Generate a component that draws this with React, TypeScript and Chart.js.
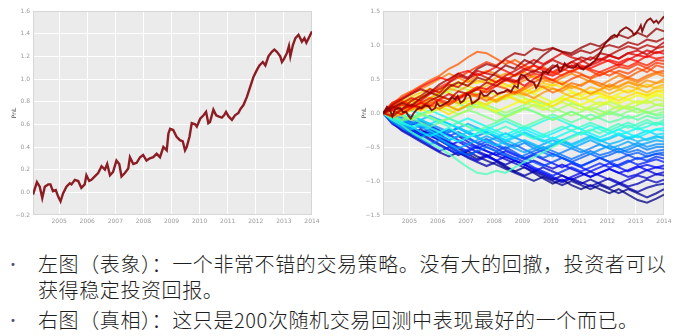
import { useEffect, useRef } from "react";
import { Chart, registerables } from "chart.js";

Chart.register(...registerables);

// ---------- data ----------
const YEAR_TICKS = [2005, 2006, 2007, 2008, 2009, 2010, 2011, 2012, 2013, 2014];
const X_MIN = 2004.07;
const X_MAX = 2014;

// best back-test (left chart), time in years, PnL
const LEFT_T = [
  2004.07, 2004.21, 2004.31, 2004.4, 2004.49, 2004.61, 2004.69, 2004.78, 2004.88, 2004.97,
  2005.05, 2005.14, 2005.26, 2005.38, 2005.44, 2005.56, 2005.68, 2005.79, 2005.91, 2005.97,
  2006.07, 2006.15, 2006.27, 2006.39, 2006.51, 2006.63, 2006.71, 2006.81, 2006.92, 2007.04,
  2007.14, 2007.22, 2007.34, 2007.46, 2007.52, 2007.64, 2007.76, 2007.88, 2007.99, 2008.11,
  2008.23, 2008.35, 2008.47, 2008.59, 2008.71, 2008.83, 2008.89, 2008.95, 2009.06, 2009.18,
  2009.3, 2009.4, 2009.48, 2009.54, 2009.64, 2009.72, 2009.84, 2009.9, 2010.02, 2010.14,
  2010.23, 2010.31, 2010.37, 2010.49, 2010.59, 2010.67, 2010.79, 2010.87, 2010.94, 2011.03,
  2011.15, 2011.26, 2011.38, 2011.44, 2011.56, 2011.68, 2011.8, 2011.92, 2012.04, 2012.13,
  2012.25, 2012.34, 2012.45, 2012.57, 2012.66, 2012.75, 2012.87, 2012.93, 2013.01, 2013.11,
  2013.18, 2013.23, 2013.32, 2013.41, 2013.52, 2013.64, 2013.73, 2013.8, 2013.88, 2014.0,
];
const LEFT_PNL = [
  -0.02, 0.09, 0.05, -0.05, 0.05, 0.07, 0.07, 0.01, 0.02, -0.04,
  -0.08, -0.01, 0.05, 0.08, 0.07, 0.11, 0.1, 0.04, 0.07, 0.15,
  0.1, 0.11, 0.14, 0.17, 0.23, 0.2, 0.25, 0.15, 0.18, 0.28,
  0.25, 0.14, 0.17, 0.21, 0.31, 0.25, 0.26, 0.31, 0.33, 0.28,
  0.3, 0.31, 0.34, 0.31, 0.4, 0.37, 0.52, 0.56, 0.55, 0.49,
  0.46, 0.45, 0.37, 0.4, 0.49, 0.61, 0.6, 0.58, 0.65, 0.68,
  0.71, 0.61, 0.62, 0.73, 0.68, 0.67, 0.66, 0.68, 0.71, 0.67,
  0.64, 0.68, 0.7, 0.73, 0.77, 0.84, 0.93, 1.02, 1.08, 1.12,
  1.15, 1.12, 1.2, 1.24, 1.26, 1.24, 1.2, 1.15, 1.18, 1.23,
  1.29, 1.2, 1.3, 1.36, 1.39, 1.33, 1.36, 1.32, 1.36, 1.42,
];

// other random back-tests (right chart), sampled every 4 months, PnL in hundredths
const RUN_T = [
  2004.07, 2004.4, 2004.73, 2005.07, 2005.4, 2005.73, 2006.07, 2006.4, 2006.73, 2007.07,
  2007.4, 2007.73, 2008.07, 2008.4, 2008.73, 2009.07, 2009.4, 2009.73, 2010.07, 2010.4,
  2010.73, 2011.07, 2011.4, 2011.73, 2012.07, 2012.4, 2012.73, 2013.07, 2013.4, 2013.73, 2014.0,
];
const RUN_PATHS: number[][] = [
  [0, 8, 15, 10, 22, 30, 25, 38, 45, 40, 52, 48, 60, 70, 65, 78, 72, 85, 95, 90, 88, 96, 102, 98, 108, 115, 110, 118, 112, 124, 120],
  [0, 12, 20, 28, 35, 30, 42, 50, 58, 52, 65, 72, 68, 80, 88, 85, 95, 92, 96, 90, 85, 92, 88, 95, 100, 96, 104, 100, 108, 105, 110],
  [0, -5, 5, 12, 8, 18, 25, 20, 32, 28, 35, 45, 40, 50, 46, 55, 62, 58, 70, 66, 75, 82, 78, 88, 85, 92, 98, 94, 100, 96, 104],
  [0, 10, 5, 18, 25, 35, 30, 45, 55, 50, 62, 58, 55, 48, 56, 65, 60, 70, 78, 72, 68, 75, 82, 78, 85, 80, 88, 92, 86, 95, 98],
  [0, 6, 14, 22, 18, 28, 35, 42, 38, 50, 58, 52, 45, 55, 62, 70, 78, 72, 80, 88, 82, 78, 70, 76, 84, 80, 88, 85, 92, 88, 92],
  [0, 4, -2, 8, 15, 10, 20, 28, 22, 30, 38, 35, 45, 52, 48, 40, 50, 58, 55, 62, 70, 65, 72, 80, 76, 70, 78, 85, 82, 90, 87],
  [0, 15, 22, 30, 38, 45, 52, 48, 58, 62, 55, 60, 68, 62, 55, 62, 70, 65, 60, 68, 75, 70, 66, 72, 78, 74, 80, 76, 84, 80, 82],
  [0, 5, 12, 8, 15, 22, 18, 12, 20, 28, 35, 30, 40, 48, 45, 52, 58, 55, 48, 56, 62, 68, 64, 60, 66, 72, 68, 75, 70, 78, 77],
  [0, 10, 18, 12, 20, 30, 38, 45, 52, 60, 68, 75, 70, 78, 72, 65, 70, 62, 58, 65, 60, 68, 62, 55, 62, 68, 65, 72, 66, 74, 72],
  [0, -3, 6, 12, 5, 14, 20, 15, 24, 30, 26, 34, 40, 36, 30, 38, 45, 52, 48, 42, 50, 56, 52, 60, 55, 62, 58, 66, 60, 70, 67],
  [0, 12, 25, 32, 40, 48, 55, 65, 72, 82, 90, 88, 80, 72, 78, 70, 62, 68, 60, 55, 62, 58, 50, 56, 62, 58, 52, 60, 66, 60, 62],
  [0, 8, 2, 10, 18, 12, 6, 14, 22, 28, 24, 18, 26, 32, 28, 35, 42, 38, 30, 36, 44, 40, 48, 44, 38, 46, 52, 48, 55, 60, 58],
  [0, 15, 20, 28, 35, 42, 50, 58, 52, 45, 55, 62, 58, 50, 42, 48, 55, 50, 44, 52, 58, 52, 46, 40, 48, 55, 50, 45, 52, 58, 54],
  [0, -6, -2, 5, 12, 8, 15, 10, 4, 12, 20, 25, 18, 26, 32, 28, 22, 30, 36, 32, 40, 35, 28, 34, 42, 38, 45, 40, 48, 44, 50],
  [0, 6, 12, 18, 14, 22, 30, 36, 32, 40, 48, 44, 52, 58, 54, 60, 52, 46, 50, 42, 36, 42, 48, 40, 34, 40, 46, 42, 38, 44, 46],
  [0, 4, 10, 4, 12, 18, 24, 20, 14, 22, 28, 22, 16, 24, 30, 26, 32, 40, 36, 30, 24, 30, 38, 34, 28, 34, 40, 36, 30, 38, 42],
  [0, 10, 16, 24, 30, 36, 30, 40, 46, 40, 34, 40, 48, 42, 36, 30, 38, 44, 40, 46, 40, 34, 28, 34, 40, 35, 30, 36, 42, 36, 38],
  [0, -4, 2, 8, 3, 10, 5, -2, 6, 12, 18, 12, 20, 26, 20, 14, 22, 16, 10, 18, 24, 20, 26, 30, 24, 18, 25, 30, 26, 32, 34],
  [0, 8, 14, 20, 26, 22, 30, 36, 42, 48, 44, 50, 45, 38, 44, 36, 30, 36, 42, 38, 32, 26, 32, 28, 22, 28, 34, 30, 25, 32, 30],
  [0, 5, -2, 4, 10, 16, 10, 4, 12, 18, 14, 8, 2, 8, 14, 20, 16, 10, 16, 22, 18, 12, 18, 24, 20, 14, 20, 26, 22, 28, 26],
  [0, 12, 20, 15, 24, 30, 36, 30, 24, 32, 38, 32, 26, 20, 28, 34, 28, 22, 16, 24, 30, 24, 18, 12, 18, 24, 20, 14, 20, 26, 22],
  [0, -3, 4, 10, 6, 0, 6, 12, 18, 14, 8, 14, 20, 26, 22, 16, 10, 4, 10, 16, 10, 4, 10, 16, 12, 6, 12, 18, 14, 20, 18],
  [0, 6, 12, 18, 24, 30, 26, 32, 38, 34, 28, 22, 16, 22, 28, 22, 16, 10, 16, 22, 16, 10, 4, 10, 16, 12, 6, 12, 18, 12, 14],
  [0, 2, -4, -10, -4, 2, 8, 4, -2, 4, 10, 6, 0, -6, 0, 6, 12, 8, 2, 8, 14, 10, 4, -2, 4, 10, 6, 0, 6, 12, 10],
  [0, 8, 14, 10, 16, 22, 16, 10, 4, 10, 16, 12, 6, 0, 6, 12, 18, 14, 8, 2, -4, 2, 8, 4, -2, 4, 10, 6, 0, 4, 6],
  [0, -4, -10, -6, 0, -6, -12, -8, -2, 4, 0, -6, -12, -6, 0, 6, 2, -4, -10, -4, 2, -4, -10, -6, 0, -4, 2, 6, 0, -2, 2],
  [0, 6, 12, 18, 12, 20, 26, 20, 14, 8, 14, 8, 2, -4, 2, 8, 2, -4, -10, -4, 2, -4, -10, -4, 2, -2, -8, -4, 2, -4, -2],
  [0, -6, -12, -8, -14, -20, -14, -8, -14, -20, -26, -20, -14, -8, -14, -20, -14, -8, -2, -8, -14, -8, -2, -8, -14, -10, -4, -10, -4, -8, -6],
  [0, -10, -18, -28, -36, -44, -52, -60, -70, -80, -88, -90, -85, -88, -80, -72, -65, -58, -50, -42, -36, -30, -24, -30, -22, -16, -22, -16, -10, -16, -10],
  [0, 4, -2, -8, -2, -8, -14, -20, -14, -20, -26, -32, -26, -20, -26, -32, -38, -32, -26, -20, -26, -20, -14, -20, -26, -20, -14, -20, -14, -18, -14],
  [0, -8, -14, -20, -16, -22, -28, -22, -30, -36, -30, -24, -18, -12, -18, -24, -18, -12, -6, -12, -18, -24, -18, -24, -30, -24, -18, -24, -20, -14, -18],
  [0, 6, 10, 4, -2, 4, -2, -8, -14, -8, -14, -20, -26, -32, -26, -20, -26, -32, -38, -32, -26, -32, -26, -20, -26, -32, -28, -22, -28, -24, -22],
  [0, -6, -14, -20, -28, -34, -28, -36, -42, -36, -30, -24, -30, -36, -30, -24, -30, -36, -30, -24, -18, -24, -30, -36, -30, -24, -30, -36, -30, -24, -26],
  [0, -4, 2, -4, -10, -16, -10, -16, -22, -28, -22, -28, -34, -40, -34, -28, -34, -40, -46, -40, -34, -28, -34, -40, -36, -30, -36, -32, -26, -32, -30],
  [0, -10, -16, -24, -18, -26, -34, -40, -34, -28, -36, -42, -48, -42, -36, -30, -36, -42, -36, -42, -48, -42, -36, -42, -38, -32, -38, -34, -40, -36, -34],
  [0, -2, -8, -4, -10, -4, -10, -16, -22, -16, -22, -28, -34, -40, -46, -40, -46, -52, -46, -40, -46, -40, -34, -40, -46, -42, -36, -42, -38, -34, -38],
  [0, -12, -20, -28, -36, -30, -38, -46, -52, -46, -40, -34, -40, -46, -52, -58, -52, -46, -40, -46, -52, -46, -40, -46, -52, -48, -42, -48, -44, -40, -42],
  [0, -4, -10, -16, -10, -16, -22, -28, -22, -30, -36, -42, -36, -30, -36, -42, -48, -54, -48, -42, -48, -54, -60, -54, -48, -54, -50, -44, -50, -46, -46],
  [0, -8, -16, -12, -20, -28, -34, -28, -22, -28, -34, -28, -36, -44, -50, -44, -52, -58, -64, -58, -52, -58, -52, -46, -52, -58, -54, -48, -54, -50, -50],
  [0, -14, -22, -30, -38, -46, -40, -48, -56, -62, -56, -50, -56, -62, -68, -62, -56, -50, -56, -62, -68, -62, -56, -62, -58, -52, -58, -54, -60, -56, -54],
  [0, -6, -12, -8, -16, -22, -30, -24, -32, -38, -44, -38, -46, -52, -46, -54, -60, -66, -60, -66, -72, -66, -60, -66, -62, -56, -62, -58, -64, -60, -58],
  [0, -10, -6, -14, -22, -18, -26, -34, -28, -36, -44, -50, -56, -50, -58, -66, -72, -78, -72, -66, -72, -78, -72, -66, -72, -68, -62, -68, -64, -60, -62],
  [0, -8, -16, -24, -32, -40, -48, -54, -60, -54, -48, -42, -48, -54, -60, -66, -60, -54, -60, -66, -72, -78, -72, -66, -72, -78, -72, -66, -70, -64, -67],
  [0, -4, -10, -18, -12, -20, -26, -32, -40, -46, -52, -46, -52, -60, -66, -72, -80, -86, -92, -86, -80, -86, -80, -74, -80, -76, -70, -76, -72, -68, -72],
  [0, -12, -18, -26, -34, -28, -36, -42, -50, -56, -50, -56, -62, -56, -62, -68, -62, -68, -74, -80, -74, -80, -86, -80, -74, -80, -86, -80, -76, -80, -77],
  [0, -6, -14, -20, -28, -34, -40, -48, -42, -50, -58, -64, -70, -64, -70, -76, -82, -88, -94, -100, -94, -88, -94, -88, -82, -88, -84, -78, -84, -80, -82],
  [0, -16, -24, -32, -40, -48, -56, -50, -58, -64, -70, -64, -58, -64, -70, -76, -70, -76, -82, -76, -82, -88, -94, -88, -82, -88, -94, -90, -84, -90, -87],
  [0, -8, -14, -22, -30, -24, -32, -40, -34, -42, -50, -56, -62, -68, -74, -80, -86, -80, -86, -92, -98, -92, -86, -92, -98, -104, -98, -92, -96, -90, -92],
  [0, -10, -20, -30, -24, -32, -40, -48, -56, -62, -56, -62, -70, -76, -70, -76, -84, -90, -96, -102, -96, -102, -108, -102, -96, -102, -108, -104, -98, -102, -98],
  [0, -14, -26, -34, -42, -50, -58, -64, -58, -66, -72, -78, -72, -80, -86, -92, -86, -92, -98, -92, -98, -104, -98, -104, -110, -104, -110, -116, -110, -106, -104],
  [0, -6, -14, -22, -30, -38, -46, -54, -62, -56, -64, -70, -76, -82, -88, -94, -100, -94, -100, -106, -100, -106, -112, -106, -112, -118, -112, -118, -124, -118, -112],
  [0, -10, -18, -26, -34, -28, -36, -44, -52, -60, -68, -62, -70, -78, -86, -80, -88, -96, -104, -98, -106, -112, -106, -112, -118, -112, -120, -128, -132, -126, -120],
];

const LINE1 = "左图（表象）：一个非常不错的交易策略。没有大的回撤，投资者可以";
const LINE2 = "获得稳定投资回报。";
const LINE3 = "右图（真相）：这只是200次随机交易回测中表现最好的一个而已。";

// ---------- helpers ----------
function jet(x: number, a: number) {
  const c = (v: number) => Math.max(0, Math.min(1, v));
  const r = c(1.5 - Math.abs(4 * x - 3));
  const g = c(1.5 - Math.abs(4 * x - 2));
  const b = c(1.5 - Math.abs(4 * x - 1));
  return `rgba(${Math.round(r * 255)},${Math.round(g * 255)},${Math.round(b * 255)},${a})`;
}

const plotBg = {
  id: "plotBg",
  beforeDraw(chart: any) {
    const { ctx, chartArea: a } = chart;
    ctx.save();
    ctx.fillStyle = "#ebebeb";
    ctx.fillRect(a.left, a.top, a.right - a.left, a.bottom - a.top);
    ctx.restore();
  },
  beforeDatasetsDraw(chart: any) {
    const { ctx, chartArea: a } = chart;
    ctx.save();
    ctx.strokeStyle = "#d6d6d6";
    ctx.lineWidth = 1;
    ctx.strokeRect(a.left + 0.5, a.top + 0.5, a.right - a.left - 1, a.bottom - a.top - 1);
    ctx.restore();
  },
};

const TICK_FONT = { family: "DejaVu Sans", size: 6 };

function fmt(v: number) {
  if (Math.abs(v) < 1e-9) return "0.0";
  const s = v.toFixed(1);
  return s.replace("-", "\u2212");
}

function zeroPad(s: any) {
  s.paddingLeft = 0;
  s.paddingRight = 0;
  s.paddingTop = 0;
  s.paddingBottom = 0;
}

function makeOptions(yMin: number, yMax: number, yStep: number, yWidth: number, titlePad: number, rightPad: number) {
  return {
    responsive: false,
    animation: false as const,
    events: [],
    layout: { padding: { top: 11, right: rightPad, left: 0, bottom: 0 } },
    plugins: { legend: { display: false }, tooltip: { enabled: false } },
    scales: {
      x: {
        type: "linear" as const,
        min: X_MIN,
        max: X_MAX,
        afterBuildTicks: (s: any) => {
          s.ticks = YEAR_TICKS.map((v) => ({ value: v }));
        },
        afterFit: (s: any) => {
          s.height = 15;
          zeroPad(s);
        },
        grid: { color: "#ffffff", lineWidth: 1, drawTicks: false },
        border: { display: false },
        ticks: {
          color: "#9a9a9a",
          font: TICK_FONT,
          padding: 3,
          maxRotation: 0,
          autoSkip: false,
          callback: (v: any) => String(v),
        },
      },
      y: {
        min: yMin,
        max: yMax,
        afterFit: (s: any) => {
          s.width = yWidth;
          zeroPad(s);
        },
        grid: { color: "#ffffff", lineWidth: 1, drawTicks: false },
        border: { display: false },
        ticks: {
          stepSize: yStep,
          color: "#9a9a9a",
          font: TICK_FONT,
          padding: 3,
          callback: (v: any) => fmt(Number(v)),
        },
        title: {
          display: true,
          text: "PnL",
          color: "#555555",
          font: { family: "DejaVu Sans", size: 6 },
          padding: { top: titlePad, bottom: 0 },
        },
      },
    },
  };
}

function leftConfig(): any {
  return {
    type: "line",
    data: {
      datasets: [
        {
          data: LEFT_T.map((t, i) => ({ x: t, y: LEFT_PNL[i] })),
          borderColor: "#8c1d24",
          borderWidth: 2.4,
          pointRadius: 0,
          tension: 0,
        },
      ],
    },
    options: makeOptions(-0.2, 1.6, 0.2, 33, 10.4, 18),
    plugins: [plotBg],
  };
}

function rightConfig(): any {
  const n = RUN_PATHS.length;
  const datasets: any[] = [
    {
      data: LEFT_T.map((t, i) => ({ x: t, y: LEFT_PNL[i] })),
      borderColor: jet(1, 0.9),
      borderWidth: 1.9,
      pointRadius: 0,
      tension: 0,
    },
  ];
  RUN_PATHS.forEach((p, k) => {
    datasets.push({
      data: RUN_T.map((t, i) => ({ x: t, y: p[i] / 100 })),
      borderColor: jet(1 - (k + 1) / n, 0.75),
      borderWidth: 2,
      pointRadius: 0,
      tension: 0,
    });
  });
  return {
    type: "line",
    data: { datasets },
    options: makeOptions(-1.5, 1.5, 0.5, 43, 20.4, 13),
    plugins: [plotBg],
  };
}

export default function App() {
  const leftRef = useRef<HTMLCanvasElement>(null);
  const rightRef = useRef<HTMLCanvasElement>(null);

  useEffect(() => {
    const c1 = new Chart(leftRef.current as HTMLCanvasElement, leftConfig());
    const c2 = new Chart(rightRef.current as HTMLCanvasElement, rightConfig());
    return () => {
      c1.destroy();
      c2.destroy();
    };
  }, []);

  const textStyle: any = {
    position: "absolute",
    left: 38,
    fontFamily: '"Noto Sans CJK SC", sans-serif',
    fontWeight: 300,
    fontSize: 20,
    lineHeight: "24px",
    letterSpacing: "0.6px",
    color: "#1e1e1e",
    whiteSpace: "nowrap",
  };
  const bulletStyle: any = {
    position: "absolute",
    left: 10,
    fontFamily: '"DejaVu Sans", sans-serif',
    fontSize: 10,
    lineHeight: "24px",
    color: "#4a4a78",
  };

  return (
    <div
      style={{
        position: "absolute",
        left: 0,
        top: 0,
        width: 677,
        height: 336,
        background: "#ffffff",
        overflow: "hidden",
      }}
    >
      <canvas ref={leftRef} width={330} height={230} style={{ position: "absolute", left: 0, top: 0, width: 330, height: 230 }} />
      <canvas ref={rightRef} width={337} height={230} style={{ position: "absolute", left: 340, top: 0, width: 337, height: 230 }} />
      <div style={{ ...bulletStyle, top: 253 }}>•</div>
      <div style={{ ...textStyle, top: 252 }}>{LINE1}</div>
      <div style={{ ...textStyle, top: 278 }}>{LINE2}</div>
      <div style={{ ...bulletStyle, top: 309 }}>•</div>
      <div style={{ ...textStyle, top: 308 }}>{LINE3}</div>
    </div>
  );
}
